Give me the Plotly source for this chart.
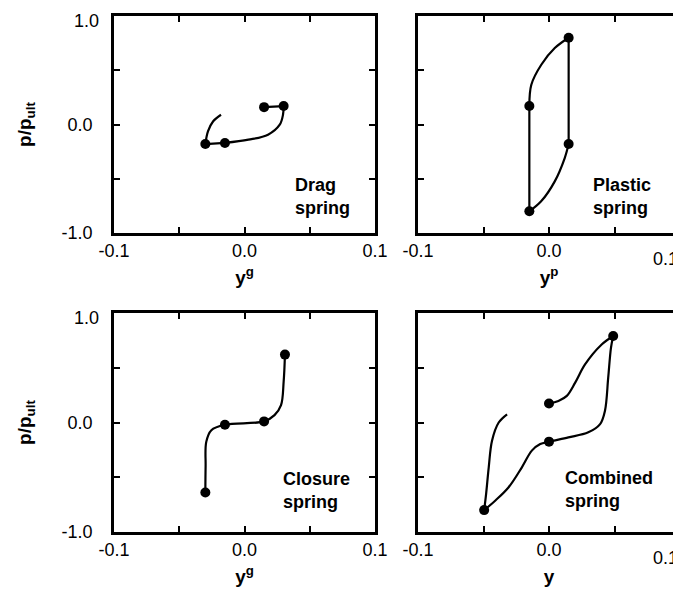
import plotly.graph_objects as go

# ---------------- data ----------------
x_tickvals = [-0.1, -0.05, 0.0, 0.05, 0.1]
x_ticktext_left = ["-0.1", "", "0.0", "", "0.1"]
x_ticktext_right = ["-0.1", "", "0.0", "", ""]   # right-edge "0.1" placed inward (as in the reference)
y_tickvals = [-1.0, -0.5, 0.0, 0.5, 1.0]
y_ticktext = ["-1.0", "", "0.0", "", ""]          # top "1.0" placed slightly below its tick
edge_x_val = 0.1
edge_x_text = "0.1"
edge_y_val = 1.0
edge_y_text = "1.0"

# Drag spring
drag_seg1_x = [-0.018, -0.024, -0.028, -0.030]
drag_seg1_y = [0.09, 0.03, -0.063, -0.18]
drag_seg2_x = [-0.030, -0.015]
drag_seg2_y = [-0.18, -0.17]
drag_seg3_x = [-0.015, 0.003, 0.018, 0.027, 0.0295, 0.030]
drag_seg3_y = [-0.17, -0.14, -0.094, -0.002, 0.09, 0.17]
drag_seg4_x = [0.030, 0.015]
drag_seg4_y = [0.17, 0.16]
drag_mark_x = [-0.030, -0.015, 0.015, 0.030]
drag_mark_y = [-0.18, -0.17, 0.16, 0.17]

# Plastic spring
plas_seg1_x = [-0.015, -0.015]
plas_seg1_y = [0.17, -0.80]
plas_seg2_x = [-0.015, -0.006, 0.0044, 0.012, 0.015]
plas_seg2_y = [-0.80, -0.708, -0.524, -0.309, -0.18]
plas_seg3_x = [0.015, 0.015]
plas_seg3_y = [-0.18, 0.80]
plas_seg4_x = [0.015, 0.0044, -0.0059, -0.0135, -0.015]
plas_seg4_y = [0.80, 0.705, 0.551, 0.367, 0.17]
plas_mark_x = [0.015, -0.015, 0.015, -0.015]
plas_mark_y = [0.80, 0.17, -0.18, -0.80]

# Closure spring
clos_x = [-0.030, -0.0298, -0.0293, -0.0254, -0.015, 0.015, 0.023, 0.028, 0.030, 0.031]
clos_y = [-0.64, -0.40, -0.177, -0.07, -0.02, 0.01, 0.067, 0.159, 0.373, 0.62]
clos_mark_x = [-0.030, -0.015, 0.015, 0.031]
clos_mark_y = [-0.64, -0.02, 0.01, 0.62]

# Combined spring
comb_seg1_x = [-0.032, -0.0384, -0.0435, -0.046, -0.048, -0.0495]
comb_seg1_y = [0.075, 0.0, -0.166, -0.409, -0.652, -0.80]
comb_seg2_x = [-0.0495, -0.0409, -0.0308, -0.0207, -0.0131, -0.0067, 0.0, 0.0148, 0.030, 0.039, 0.0427, 0.0452, 0.0473, 0.049]
comb_seg2_y = [-0.80, -0.712, -0.591, -0.409, -0.257, -0.197, -0.175, -0.136, -0.09, -0.015, 0.106, 0.409, 0.682, 0.79]
comb_seg3_x = [0.049, 0.0402, 0.0275, 0.020, 0.0136, 0.0072, 0.0]
comb_seg3_y = [0.79, 0.712, 0.53, 0.364, 0.243, 0.197, 0.173]
comb_mark_x = [0.049, 0.0, 0.0, -0.0495]
comb_mark_y = [0.79, 0.173, -0.175, -0.80]

panel_labels = ["Drag<br>spring", "Plastic<br>spring", "Closure<br>spring", "Combined<br>spring"]
label_pos_x = [0.037, 0.032, 0.028, 0.011]
label_pos_y = [-0.66, -0.66, -0.62, -0.61]
x_titles = ["y<sup>g</sup>", "y<sup>p</sup>", "y<sup>g</sup>", "y"]
y_title = "p/p<sub>ult</sub>"

# ---------------- figure ----------------
FONT = "Liberation Sans, Arial, sans-serif"
fig = go.Figure()

panels = [
    ("x", "y", [(drag_seg1_x, drag_seg1_y), (drag_seg2_x, drag_seg2_y), (drag_seg3_x, drag_seg3_y), (drag_seg4_x, drag_seg4_y)], (drag_mark_x, drag_mark_y)),
    ("x2", "y2", [(plas_seg1_x, plas_seg1_y), (plas_seg2_x, plas_seg2_y), (plas_seg3_x, plas_seg3_y), (plas_seg4_x, plas_seg4_y)], (plas_mark_x, plas_mark_y)),
    ("x3", "y3", [(clos_x, clos_y)], (clos_mark_x, clos_mark_y)),
    ("x4", "y4", [(comb_seg1_x, comb_seg1_y), (comb_seg2_x, comb_seg2_y), (comb_seg3_x, comb_seg3_y)], (comb_mark_x, comb_mark_y)),
]

for xa, ya, segs, marks in panels:
    for sx, sy in segs:
        fig.add_trace(go.Scatter(x=sx, y=sy, xaxis=xa, yaxis=ya, mode="lines",
                                 line=dict(color="black", width=2.2, shape="spline", smoothing=1.0),
                                 showlegend=False, hoverinfo="skip"))
    fig.add_trace(go.Scatter(x=marks[0], y=marks[1], xaxis=xa, yaxis=ya, mode="markers",
                             marker=dict(color="black", size=10),
                             showlegend=False))

xdomains = [[106/681, 367/681], [410/681, 672/681], [106/681, 367/681], [410/681, 672/681]]
ydomains = [[(594-225)/594, (594-8)/594], [(594-225)/594, (594-8)/594],
            [(594-524)/594, (594-305)/594], [(594-524)/594, (594-305)/594]]

layout = dict(
    width=681, height=594,
    margin=dict(l=0, r=0, t=0, b=0, autoexpand=False),
    paper_bgcolor="white", plot_bgcolor="white",
    font=dict(family=FONT, color="black", size=18),
    showlegend=False,
)

for i in range(4):
    n = "" if i == 0 else str(i + 1)
    layout["xaxis" + n] = dict(
        domain=xdomains[i], range=[-0.1, 0.1], anchor="y" + n, automargin=False,
        tickmode="array", tickvals=x_tickvals,
        ticktext=x_ticktext_left if i in (0, 2) else x_ticktext_right,
        ticks="inside", ticklen=6, tickwidth=2, tickcolor="black",
        showline=True, linecolor="black", linewidth=2.5, mirror="ticks",
        showgrid=False, zeroline=False, ticklabelstandoff=0,
        ticklabeloverflow="allow",
        tickfont=dict(size=18),
        title=dict(text="<b>" + x_titles[i] + "</b>", font=dict(size=19), standoff=11),
    )
    layout["yaxis" + n] = dict(
        domain=ydomains[i], range=[-1.0, 1.0], anchor="x" + n, automargin=False,
        tickmode="array", tickvals=y_tickvals, ticktext=y_ticktext,
        ticks="inside", ticklen=6, tickwidth=2, tickcolor="black",
        showline=True, linecolor="black", linewidth=2.5, mirror="ticks",
        showgrid=False, zeroline=False, ticklabelstandoff=15,
        ticklabeloverflow="allow",
        showticklabels=(i in (0, 2)),
        tickfont=dict(size=18),
        title=dict(text="<b>" + y_title + "</b>" if i in (0, 2) else "", font=dict(size=19), standoff=25),
    )

fig.update_layout(**layout)

annos = []
for i in range(4):
    n = "" if i == 0 else str(i + 1)
    annos.append(dict(x=label_pos_x[i], y=label_pos_y[i], xref="x" + n, yref="y" + n,
                      text="<b>" + panel_labels[i] + "</b>", showarrow=False,
                      xanchor="left", yanchor="middle", align="left",
                      font=dict(family=FONT, size=18, color="black")))

# edge tick labels, nudged inward like the reference
for n in ("2", "4"):
    annos.append(dict(x=edge_x_val, y=0, xref="x" + n, yref="y" + n + " domain",
                      text=edge_x_text, showarrow=False, xanchor="right", yanchor="middle",
                      yshift=-26, font=dict(family=FONT, size=18, color="black")))
for n in ("", "3"):
    annos.append(dict(x=0, y=edge_y_val, xref="x" + n + " domain", yref="y" + n,
                      text=edge_y_text, showarrow=False, xanchor="right", yanchor="middle",
                      xshift=-13, yshift=-5, font=dict(family=FONT, size=18, color="black")))
fig.update_layout(annotations=annos)

fig.write_html("out.html")
